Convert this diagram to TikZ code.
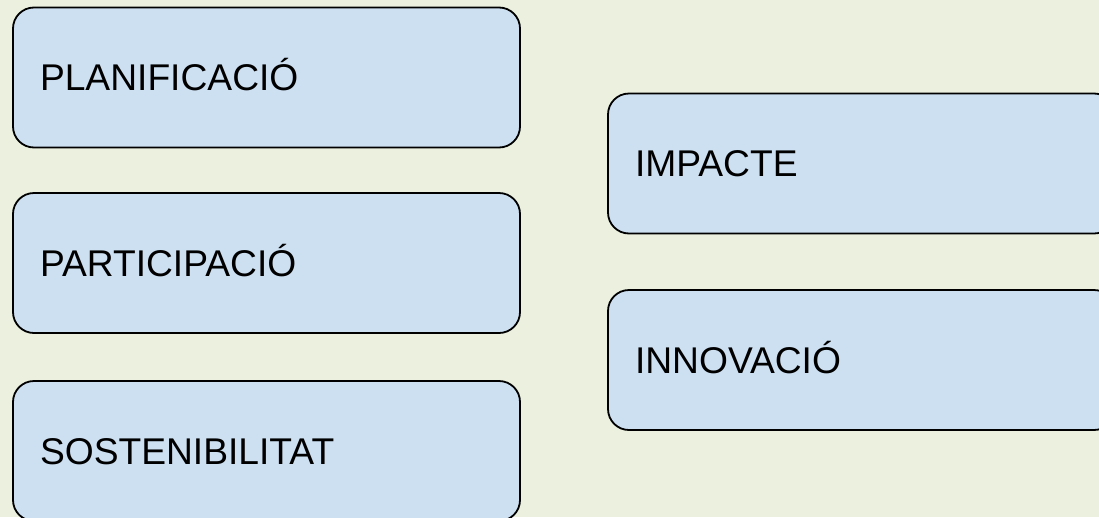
\documentclass[tikz,border=0pt]{standalone}
\usepackage{fontspec}
\setmainfont{Liberation Sans}
\definecolor{bg}{RGB}{235,241,222}
\definecolor{boxfill}{RGB}{205,224,242}
\begin{document}
\begin{tikzpicture}[x=1pt,y=-1pt,
  box/.style={draw=black, line width=1.8pt, fill=boxfill, rounded corners=21pt,
    minimum width=507pt, minimum height=140pt, inner xsep=27pt, inner ysep=0pt,
    text width=453pt, align=left, text height=26.5pt, text depth=0pt,
    font=\fontsize{37.2}{44}\selectfont, anchor=center}]
\useasboundingbox (0,0) rectangle (1099,517);
\clip (0,0) rectangle (1099,517);
\fill[bg] (0,0) rectangle (1099,517);
\node[box] (plan) at (266.5,77.5) {PLANIFICACIÓ};
\node[box] (part) at (266.5,263) {PARTICIPACIÓ};
\node[box] (sost) at (266.5,451) {SOSTENIBILITAT};
\node[box] (imp) at (861.5,163.5) {IMPACTE};
\node[box] (inn) at (861.5,360) {INNOVACIÓ};
\end{tikzpicture}
\end{document}
